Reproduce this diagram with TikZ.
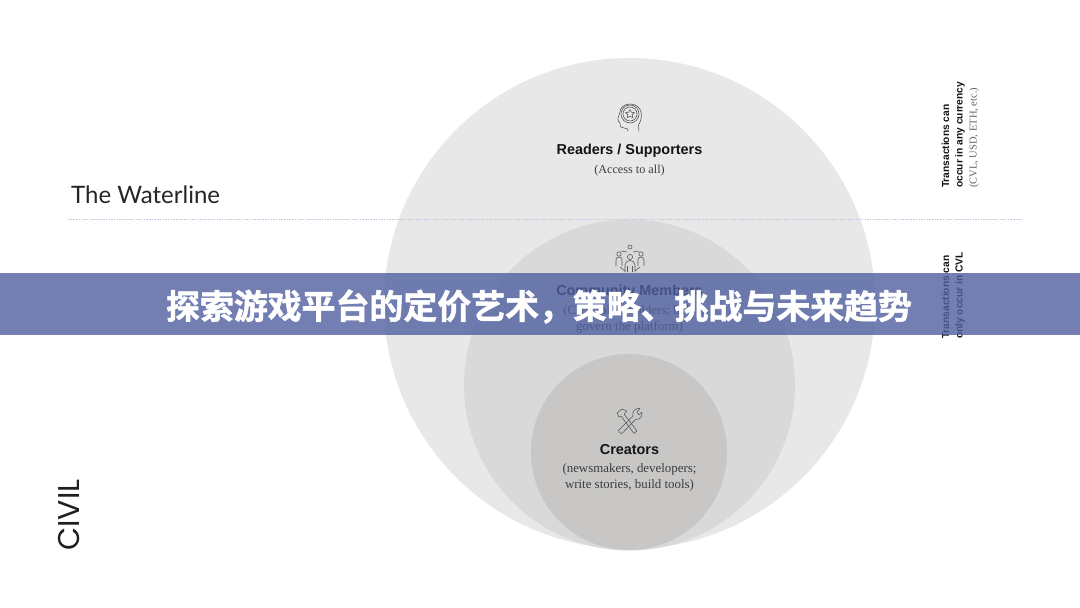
\documentclass[tikz,border=0pt]{standalone}
\usepackage{fontspec}
\setmainfont{Liberation Serif}
\setsansfont{Liberation Sans}
\newfontfamily\cjkfont[FakeBold=1.6]{Noto Sans CJK SC Bold}
\newfontfamily\latofont{Lato}
\newfontfamily\civilfont{Poppins}
\usetikzlibrary{shapes.geometric}
\definecolor{outerc}{HTML}{E8E8E8}
\definecolor{midc}{HTML}{D9D9D9}
\definecolor{innerc}{HTML}{C8C7C5}
\definecolor{inkc}{HTML}{141414}
\definecolor{subc}{HTML}{3C3C3C}
\definecolor{iconc}{HTML}{5A5A5A}
\definecolor{bandc}{HTML}{5060A1}
\definecolor{waterc}{HTML}{C4C8E0}
\tikzset{
  disc/.style={circle,inner sep=0pt,minimum size=#1},
  headtext/.style={font=\sffamily\bfseries\fontsize{14.4}{16}\selectfont,text=inkc,inner sep=0pt},
  subtext/.style={font=\rmfamily\fontsize{12.9}{16}\selectfont,text=subc,inner sep=0pt,align=center},
  sidehead/.style={font=\sffamily\bfseries\fontsize{10.2}{14}\selectfont,text=inkc,inner sep=0pt,rotate=90,anchor=west},
  sidesub/.style={font=\rmfamily\fontsize{10.5}{14}\selectfont,text=subc!80,inner sep=0pt,rotate=90,anchor=west},
  icon/.style={draw=iconc,line width=0.6pt,fill=none},
}
\begin{document}
\begin{tikzpicture}[x=1pt,y=-1pt]
\useasboundingbox (0,0) rectangle (1080,608);
\fill[white] (0,0) rectangle (1080,608);
% nested circles
\node[disc=491pt,fill=outerc] (outer) at (629.5,303.5) {};
\node[disc=331pt,fill=midc] (middle) at (629.5,385) {};
\node[disc=196pt,fill=innerc] (inner) at (629,452) {};
% waterline
\coordinate (wl) at (68,219);
\coordinate (wr) at (1022,219);
\draw[waterc,line width=1pt,dash pattern=on 1.5pt off 1.2pt] (wl) -- (wr);
\node[font=\latofont\fontsize{24}{28}\selectfont,text=black!85,anchor=west,inner sep=0pt] (waterline) at (71,195) {The Waterline};
\node[font=\civilfont\fontsize{30}{34}\selectfont,text=black!88,rotate=90,anchor=west,inner sep=0pt] (civil) at (68.5,551) {CIVIL};
% readers
\node[headtext] (readers) at (629.5,150.5) {Readers / Supporters};
\node[subtext,font=\rmfamily\fontsize{12.2}{15.5}\selectfont] (readerssub) at (629.5,170.5) {(Access to all)};
% readers icon
\draw[icon] (639,131.5) -- (638.5,125) .. controls (641,121) and (642,117) .. (641,112) .. controls (640,107) and (635,104) .. (630,104) .. controls (624,104) and (620,108) .. (620,112) .. controls (620,115) and (617,118) .. (618,120) .. controls (618,122) and (620,122) .. (620,123) .. controls (620,127) and (621,128) .. (624,128) .. controls (627,128) and (628,129) .. (628,131);
\draw[icon] (630,114) circle (9);
\draw[icon] (630,114) circle (7);
\node[star,star points=5,star point ratio=2,draw=iconc,line width=0.6pt,minimum size=9pt,inner sep=0pt] (readerstar) at (630,114) {};
% community
\node[headtext,text=inkc] (community) at (629.5,291.5) {Community Members};
\node[subtext] (communitysub) at (629.5,319) {(CVL token holders; help\\govern the platform)};
% community icon
\draw[icon] (630,257) circle (2.6);
\draw[icon] (625,272) -- (625,265) .. controls (625,259) and (635,259) .. (635,265) -- (635,272);
\draw[icon] (627.5,272) -- (627.5,266) (632.5,272) -- (632.5,266);
\draw[icon] (619,254) circle (2.2);
\draw[icon] (641,254) circle (2.2);
\draw[icon] (630,247) circle (2);
\draw[icon] (616,266) -- (616,260) .. controls (616,256) and (622,256) .. (622,260) -- (622,266);
\draw[icon] (638,266) -- (638,260) .. controls (638,256) and (644,256) .. (644,260) -- (644,266);
\draw[icon] (621,251) -- (627,252) (633,252) -- (639,251);
\draw[icon] (620,267) -- (625,271) (640,267) -- (635,271);
% creators
\node[headtext] (creators) at (629.5,450) {Creators};
\node[subtext] (creatorssub) at (629.5,477) {(newsmakers, developers;\\write stories, build tools)};
% creators icon
\draw[icon,rounded corners=0.6pt] (637,431) -- (624,414) -- (627,411) -- (622,409) -- (617,413) -- (619,417) -- (621,416) -- (634,433.5) -- cycle;
\draw[icon,rounded corners=0.6pt] (619,430) -- (633,416) .. controls (632,411) and (636,408) .. (640,408.5) -- (637,412) -- (639,415) -- (642,412) .. controls (642.5,417) and (639,420) .. (636,419) -- (622,433.5) .. controls (620,433.5) and (618,431) .. (619,430) -- cycle;
% side notes
\node[sidehead] (t1) at (945.5,188) {Transactions can};
\node[sidehead] (t2) at (960,188) {occur in any currency};
\node[sidesub] (t3) at (974,188) {(CVL, USD, ETH, etc.)};
\node[sidehead] (t4) at (945.5,339) {Transactions can};
\node[sidehead] (t5) at (960,339) {only occur in CVL};
% banner
\fill[bandc,opacity=0.8] (0,273) rectangle (1080,335);
\node[font=\cjkfont\fontsize{33.9}{38}\selectfont,text=white,inner sep=0pt] (title) at (539,306.5) {探索游戏平台的定价艺术，策略、挑战与未来趋势};
\end{tikzpicture}
\end{document}
